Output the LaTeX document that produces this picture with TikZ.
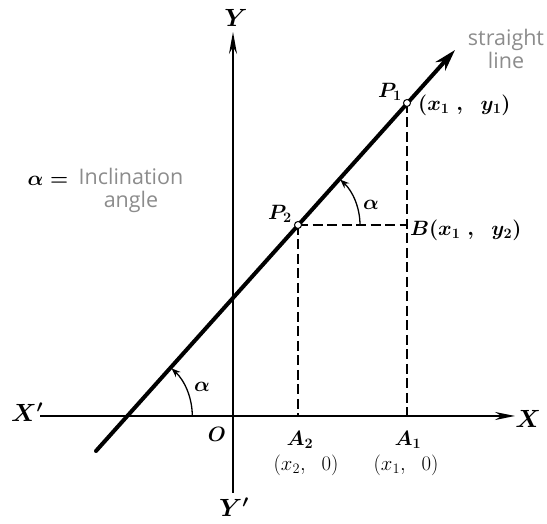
\documentclass[tikz,border=0pt]{standalone}
\usepackage{fontspec}
\newfontfamily\osans{Open Sans}
\usetikzlibrary{arrows.meta,calc}
\definecolor{labelgray}{HTML}{8C8C8C}
\tikzset{
  axlabel/.style={font=\fontsize{25}{28}\selectfont\boldmath, inner sep=0pt},
  mlabel/.style={font=\fontsize{22.5}{26}\selectfont\boldmath, inner sep=0pt},
  slabel/.style={font=\fontsize{20}{24}\selectfont\boldmath, inner sep=0pt},
  rlabel/.style={font=\fontsize{20.5}{24}\selectfont, inner sep=0pt},
  glabel/.style={font=\fontsize{21.5}{26}\selectfont\osans, text=labelgray, inner sep=0pt, align=center},
  axisline/.style={line width=1.8pt},
  mainline/.style={line width=4pt, line cap=round},
  guide/.style={line width=1.5pt, dash pattern=on 10pt off 4.5pt},
  ptcirc/.style={circle, draw, fill=white, line width=1pt, minimum size=7pt, inner sep=0pt},
  anglearc/.style={line width=1.3pt, -{Stealth[length=9pt,width=7pt,inset=3pt]}}
}
\begin{document}
\begin{tikzpicture}[x=1pt,y=1pt]
\useasboundingbox (0,0) rectangle (547,524);
% coordinates
\coordinate (O) at (233,108);
\coordinate (Ytop) at (233,492);
\coordinate (Ybot) at (233,31);
\coordinate (Xleft) at (40,108);
\coordinate (Xtip) at (515,108);
\coordinate (P2c) at (298,299);
\coordinate (P1c) at (407,421);
\coordinate (Bc) at (407,299);
\coordinate (A2c) at (298,108);
\coordinate (A1c) at (407,108);
\coordinate (L0) at (96,73);
\coordinate (Ltip) at (455,474);
\coordinate (C) at (127.3,108);
% axes
\draw[axisline, -{Stealth[length=20pt,width=8pt]}] (Xleft) -- (Xtip);
\draw[axisline, -{Stealth[length=22pt,width=8pt]}] (Ybot) -- (Ytop);
% guides
\draw[guide] (P2c) -- (Bc);
\draw[guide] (P1c) -- (A1c);
\draw[guide] (P2c) -- (A2c);
% main line
\draw[mainline, -{Stealth[length=22pt,width=13pt]}] (L0) -- (Ltip);
% angle arcs
\draw[anglearc] ($(C)+(65,0)$) arc[start angle=0, end angle=47, radius=65];
\draw[anglearc] ($(P2c)+(62,0)$) arc[start angle=0, end angle=47, radius=62];
% points
\node[ptcirc] (P2) at (P2c) {};
\node[ptcirc] (P1) at (P1c) {};
% labels
\node[axlabel] (Ylab) at (236,506) {$Y$};
\node[axlabel, anchor=south] (Yplab) at (234,7) {$Y'$};
\node[axlabel] (Xplab) at (27,112) {$X'$};
\node[axlabel] (Xlab) at (528,105) {$X$};
\node[slabel] (Olab) at (217,90) {$O$};
\node[slabel] (A2lab) at (300,84) {$A_2$};
\node[slabel] (A1lab) at (408,84) {$A_1$};
\node[rlabel] (A2co) at (306,59) {$(x_2,\ \ 0)$};
\node[rlabel] (A1co) at (406,59) {$(x_1,\ \ 0)$};
\node[mlabel] (P1lab) at (390,432) {$P_1$};
\node[mlabel, anchor=west] (P1co) at (418,419) {$(x_1\ ,\ \ y_1)$};
\node[mlabel] (P2lab) at (280,310) {$P_2$};
\node[mlabel, anchor=west] (Bco) at (410,294) {$B(x_1\ ,\ \ y_2)$};
\node[mlabel] (alpha1) at (371,319) {$\alpha$};
\node[mlabel] (alpha2) at (202,137) {$\alpha$};
\node[mlabel] (alphaeq) at (48,343) {$\alpha=$};
\node[glabel] (incl) at (131,334) {Inclination\\[-3pt]angle};
\node[glabel] (strl) at (506,475) {straight\\[-3pt]line};
\end{tikzpicture}
\end{document}
